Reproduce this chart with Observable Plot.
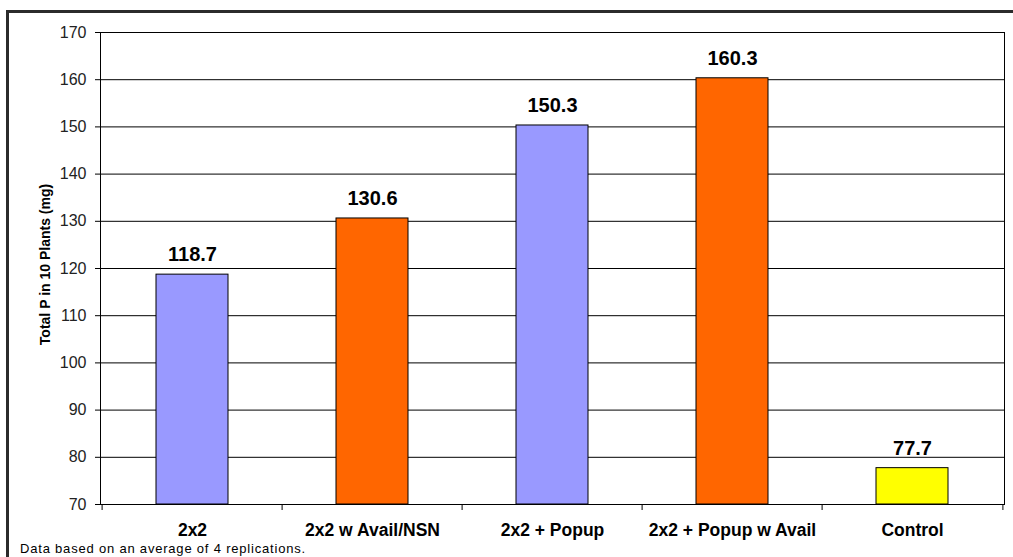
<!DOCTYPE html>
<html>
<head>
<meta charset="utf-8">
<script src="https://cdn.jsdelivr.net/npm/d3@7"></script>
<script src="https://cdn.jsdelivr.net/npm/@observablehq/plot@0.6"></script>
<style>
  html, body { margin: 0; padding: 0; background: #fff; }
  #wrap { position: relative; width: 1013px; height: 557px; overflow: hidden; font-family: "Liberation Sans", Arial, sans-serif; }
  #border { position: absolute; left: 6px; top: 10px; width: 1100px; height: 700px; border-left: 3px solid #2b2b2b; border-top: 3px solid #2b2b2b; }
  #chart { position: absolute; left: 0; top: 0; }
  #caption { position: absolute; left: 20px; top: 542px; font-size: 13px; line-height: 1; letter-spacing: 0.8px; color: #000; white-space: nowrap; }
</style>
</head>
<body>
<div id="wrap">
  <div id="border"></div>
  <div id="chart"></div>
  <div id="caption"></div>
</div>
<script>
// ---- data ----
const categories = ["2x2", "2x2 w Avail/NSN", "2x2 + Popup", "2x2 + Popup w Avail", "Control"];
const values = [118.7, 130.6, 150.3, 160.3, 77.7];
const barColors = ["#9999FF", "#FF6600", "#9999FF", "#FF6600", "#FFFF00"];
const yDomain = [70, 170];
const yTicks = [70, 80, 90, 100, 110, 120, 130, 140, 150, 160, 170];
const yLabel = "Total P in 10 Plants (mg)";
const captionText = "Data based on an average of 4 replications.";

const data = categories.map((c, i) => ({cat: c, value: values[i], color: barColors[i]}));

const W = 1013, H = 557;
const mL = 100, mR = 9, mT = 32, mB = 53;
const step = (W - mL - mR) / categories.length;
const frameH = H - mT - mB;
const font = "'Liberation Sans', Arial, sans-serif";

const chart = Plot.plot({
  width: W,
  height: H,
  marginLeft: mL,
  marginRight: mR,
  marginTop: mT,
  marginBottom: mB,
  style: {fontFamily: font, background: "transparent", color: "#000"},
  x: {domain: categories, paddingInner: 0.6, paddingOuter: 0.3, label: null},
  y: {domain: yDomain, label: null},
  color: {type: "identity"},
  marks: [
    Plot.gridY(yTicks, {stroke: "#000", strokeOpacity: 1, strokeWidth: 1}),
    Plot.barY(data, {x: "cat", y1: () => yDomain[0], y2: "value", fill: "color", stroke: "#000", strokeWidth: 1}),
    Plot.text(data, {x: "cat", y: "value", text: d => d3.format(".1f")(d.value), dy: -20, fontSize: 20, fontWeight: "bold", fill: "#000", lineAnchor: "middle"}),
    Plot.frame({stroke: "#000", strokeWidth: 1}),
    Plot.axisY(yTicks, {tickSize: 5, tickPadding: 9, fontSize: 16, fill: "#222", stroke: "#000", label: null}),
    Plot.axisX({tickSize: 0, tickPadding: 19, fontSize: 17.5, fontWeight: "bold", fill: "#000", label: null}),
    // boundary tick marks between categories
    Plot.ruleX(categories, {x: d => d, dx: -step / 2, insetTop: frameH, insetBottom: -6, stroke: "#000"}),
    Plot.ruleX(categories.slice(-1), {x: d => d, dx: step / 2, insetTop: frameH, insetBottom: -6, stroke: "#000"}),
    Plot.text([yLabel], {frameAnchor: "left", textAnchor: "middle", lineAnchor: "middle", text: d => d, rotate: -90, dx: -55, dy: -4, fontSize: 14, fontWeight: "bold", fill: "#000"})
  ]
});
document.getElementById("chart").appendChild(chart);
document.getElementById("caption").textContent = captionText;
</script>
</body>
</html>
